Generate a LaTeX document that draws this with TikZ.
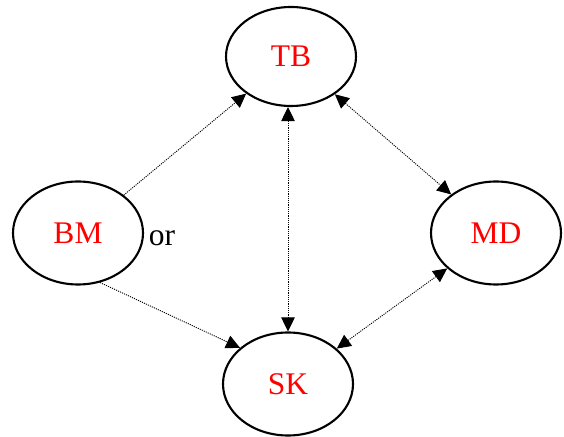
\documentclass[tikz,border=0pt]{standalone}
\usepackage{fontspec}
\setmainfont{Liberation Serif}
\usetikzlibrary{shapes.geometric,arrows.meta}
\begin{document}
\begin{tikzpicture}[x=1pt,y=1pt,
  state/.style={draw=black,line width=2.1pt,ellipse,minimum width=130pt,
    minimum height=103pt,inner sep=0pt,text=red,
    font=\fontsize{31.5}{36}\selectfont},
  link/.style={line width=0.9pt,dash pattern=on 1.1pt off 1.1pt,
    -{Triangle[length=14pt,width=13.5pt]}},
  both/.style={link,{Triangle[length=14pt,width=13.5pt]}-{Triangle[length=14pt,width=13.5pt]}}]
\useasboundingbox (0,0) rectangle (564,436);
% the four states
\node[state,minimum height=99pt] (tb) at (291,379.5) {TB};
\node[state] (bm) at (78,203) {BM};
\node[state] (md) at (496,203) {MD};
\node[state] (sk) at (288,52) {SK};
\node[font=\fontsize{31.5}{36}\selectfont,inner sep=0pt] (or) at (162,198) {or};
% transitions
\draw[link] (bm) -- (tb);
\draw[link] (bm.294) -- (sk.143);
\draw[both] (tb.south -| sk.north) -- (sk.north);
\draw[both] (tb) -- (md);
\draw[both] (md) -- (sk);
\end{tikzpicture}
\end{document}
